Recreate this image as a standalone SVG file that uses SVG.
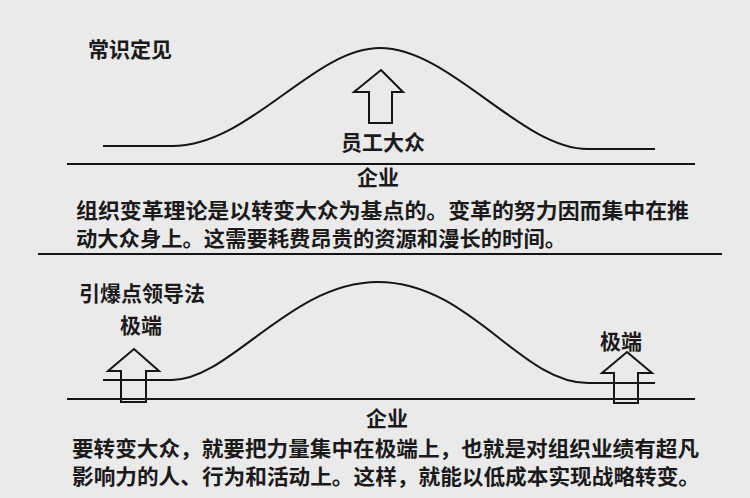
<svg xmlns="http://www.w3.org/2000/svg" width="750" height="498" viewBox="0 0 750 498">
<style>
.t{font-family:"Noto Sans CJK SC","Noto Sans",sans-serif;fill:#1a1a1a;font-size:21px;font-weight:bold}
.ln{fill:none;stroke:#151515;stroke-width:2}
.ar{fill:none;stroke:#151515;stroke-width:2;stroke-linejoin:miter}
</style>
<rect width="750" height="498" fill="#eaeaea"/>
<g id="connectors">
<path class="ln" d="M103,146 L172,146 C250,146 313,48 380,48 C450,48 521,149 588,149 L655,149"/>
<path class="ln" d="M67,164 L695,164"/>
<path class="ln" d="M38,254 L722,254"/>
<path class="ln" d="M103,380 L172,380 C230,380 290,282 378,282 C470,282 520,383 588,383 L655,383"/>
<path class="ln" d="M67,399 L695,399"/>
</g>
<g id="top-title"><text class="t" x="88" y="57">常识定见</text></g>
<g id="top-arrow"><polygon class="ar" points="381,70 403,92 392,92 392,123 369,123 369,92 354,92"/></g>
<g id="top-label"><text class="t" x="341" y="150" font-size="20">员工大众</text></g>
<g id="top-company"><text class="t" x="357" y="185" font-size="20">企业</text></g>
<g id="top-text">
<text class="t" x="76" y="218" textLength="613" lengthAdjust="spacingAndGlyphs">组织变革理论是以转变大众为基点的。变革的努力因而集中在推</text>
<text class="t" x="76" y="246" textLength="490" lengthAdjust="spacingAndGlyphs">动大众身上。这需要耗费昂贵的资源和漫长的时间。</text>
</g>
<g id="bottom-title"><text class="t" x="79" y="301">引爆点领导法</text></g>
<g id="left-extreme">
<text class="t" x="120" y="333" font-size="22">极端</text>
<polygon class="ar" points="134,349 159,371 146,371 146,402 121,402 121,371 108,371"/>
</g>
<g id="right-extreme">
<text class="t" x="600" y="349" font-size="22">极端</text>
<polygon class="ar" points="627,352 652,373 638,373 638,403 614,403 614,373 602,373"/>
</g>
<g id="bottom-company"><text class="t" x="366" y="426">企业</text></g>
<g id="bottom-text">
<text class="t" x="72" y="456" textLength="627" lengthAdjust="spacingAndGlyphs">要转变大众，就要把力量集中在极端上，也就是对组织业绩有超凡</text>
<text class="t" x="72" y="484" textLength="628" lengthAdjust="spacingAndGlyphs">影响力的人、行为和活动上。这样，就能以低成本实现战略转变。</text>
</g>
</svg>
